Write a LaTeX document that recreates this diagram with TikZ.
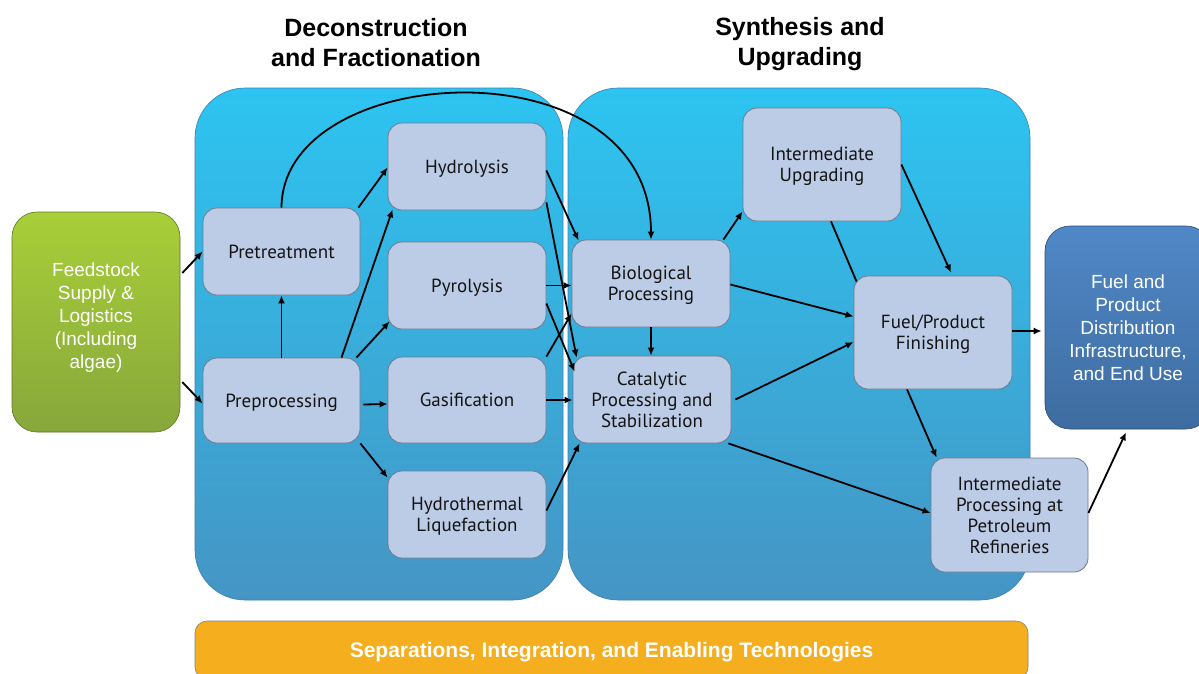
\documentclass[tikz,border=0pt]{standalone}
\usepackage{fontspec}
\setmainfont{Liberation Sans}
\newfontfamily\boxfont{PT Sans}
\usetikzlibrary{arrows.meta}
\definecolor{pbox}{HTML}{BCCBE6}
\definecolor{procline}{HTML}{6E7A8E}
\definecolor{paneltop}{HTML}{2DC4F1}
\definecolor{panelbot}{HTML}{4595C4}
\definecolor{panelline}{HTML}{3A7FAF}
\definecolor{greentop}{HTML}{A8CF38}
\definecolor{greenbot}{HTML}{87A73B}
\definecolor{disttop}{HTML}{5088C7}
\definecolor{distbot}{HTML}{3E6CA0}
\definecolor{barfill}{HTML}{F4AE1E}
\definecolor{boxtext}{HTML}{141414}
\begin{document}
\begin{tikzpicture}[x=1pt,y=-1pt,
  proc/.style={draw=procline, line width=0.8pt, fill=pbox, rounded corners=14pt,
    minimum width=158pt, minimum height=87pt, align=center, inner sep=2pt,
    text=boxtext, text depth=0pt, font=\boxfont\fontsize{19}{21}\selectfont},
  tallproc/.style={proc, minimum height=113pt},
  panel/.style={rounded corners=50pt, top color=paneltop, bottom color=panelbot,
    draw=panelline, line width=0.6pt, minimum height=512pt},
  title/.style={align=center, font=\bfseries\fontsize{25}{30}\selectfont, text=black},
  whitetext/.style={align=center, text=white, font=\fontsize{19}{23}\selectfont},
  arr/.style={line width=1.8pt, -{Latex[length=8pt,width=7pt]}},
  plain/.style={line width=1.8pt}
]
\useasboundingbox (0,0) rectangle (1199,673);
\fill[white] (0,0) rectangle (1199,673);

% panels
\node[panel, minimum width=368pt] (pl) at (379,344) {};
\node[panel, minimum width=462pt] (pr) at (799,344) {};

% titles
\node[title] (t1) at (376,42.5) {Deconstruction\\and Fractionation};
\node[title] (t2) at (800,44.5) {Synthesis and\\Upgrading};

% feedstock
\node[rounded corners=25pt, top color=greentop, bottom color=greenbot,
  draw=greenbot!70!black, line width=0.6pt, minimum width=168pt, minimum height=220pt]
  (feed) at (96,322) {};
\node[whitetext] (feedtxt) at (96,318) {Feedstock\\Supply \&\\Logistics\\(Including\\algae)};

% distribution
\node[rounded corners=25pt, top color=disttop, bottom color=distbot,
  draw=distbot!70!black, line width=0.6pt, minimum width=166pt, minimum height=203pt,
  whitetext] (dist) at (1128,327.5)
  {Fuel and\\Product\\Distribution\\Infrastructure,\\and End Use};

% bottom bar
\node[rounded corners=12pt, fill=barfill, draw=gray, line width=0.6pt,
  minimum width=833pt, minimum height=58pt, text=white, text depth=0pt,
  font=\bfseries\fontsize{21}{24}\selectfont] (sep) at (611.5,650)
  {Separations, Integration, and Enabling Technologies};

% process boxes
\node[proc, minimum width=157pt] (pret) at (281.5,251.5) {Pretreatment};
\node[proc, minimum width=157pt, minimum height=85pt] (prep) at (281.5,400.5) {Preprocessing};
\node[proc] (hyd) at (467,166.5) {Hydrolysis};
\node[proc] (pyr) at (467,285.5) {Pyrolysis};
\node[proc, minimum height=86pt] (gas) at (467,400) {Gasification};
\node[proc] (htl) at (467,514.5) {Hydrothermal\\Liquefaction};
\node[proc] (bio) at (651,283.5) {Biological\\Processing};
\node[proc] (cat) at (652,399.5) {Catalytic\\Processing and\\Stabilization};
\node[tallproc] (iup) at (822,164.5) {Intermediate\\Upgrading};
\node[tallproc] (fin) at (933,332.5) {Fuel/Product\\Finishing};
\node[tallproc, minimum width=157pt, minimum height=114pt] (ipr) at (1009.5,515)
  {Intermediate\\Processing at\\Petroleum\\Refineries};

% connectors
\draw[arr] ([xshift=2pt,yshift=49pt]feed.east) -- (pret.west);
\draw[arr] ([xshift=2pt,yshift=-60pt]feed.east) -- ([yshift=-3pt]prep.west);
\draw[arr] (prep.north) -- (pret.south);
\draw[arr] (pret.north) .. controls (282,60) and (651,40) .. (bio.north);
\draw[arr] ([xshift=-2pt]pret.north east) -- ([yshift=-1pt]hyd.west);
\draw[arr] ([xshift=60pt]prep.north) -- ([xshift=5pt,yshift=1pt]hyd.south west);
\draw[arr] ([xshift=-4pt]prep.north east) -- ([xshift=2pt,yshift=8pt]pyr.south west);
\draw[arr] ([xshift=3pt,yshift=-4pt]prep.east) -- ([yshift=-4pt]gas.west);
\draw[arr] (prep.south east) -- ([yshift=-7pt]htl.north west);

\draw[arr] ([yshift=-4pt]hyd.east) -- ([xshift=7pt,yshift=-1pt]bio.north west);
\draw[arr] ([yshift=8pt]hyd.south east) -- ([xshift=4pt,yshift=-2pt]cat.north west);
\draw[arr] (pyr.east) -- (pyr.east -| bio.west);
\draw[arr] ([yshift=-18pt]pyr.east) -- ([xshift=2pt,yshift=-16pt]cat.north west);
\draw[arr] (gas.north east) -- ([yshift=14pt]bio.south west);
\draw[arr] (gas.east) -- (gas.east -| cat.west);
\draw[arr] ([yshift=4pt]htl.east) -- ([xshift=7pt]cat.south west);
\draw[arr] (bio.south) -- (bio.south |- cat.north);

\draw[arr] ([xshift=-7pt]bio.north east) -- ([yshift=10pt]iup.south west);
\draw[arr] ([yshift=-1pt]bio.east) -- ([yshift=16pt]fin.west);
\draw[arr] ([xshift=4pt]cat.east) -- ([yshift=-9.5pt]fin.west);
\draw[arr] ([xshift=-3pt]cat.south east) -- ([yshift=2pt]ipr.west);
\draw[arr] (iup.east) -- ([xshift=18pt,yshift=3pt]fin.north);
\draw[plain] ([xshift=9pt]iup.south) -- ([xshift=3pt,yshift=-6pt]fin.north west);
\draw[arr] ([yshift=1.5pt]fin.east) -- ([xshift=-3pt,yshift=1.5pt]fin.east -| dist.west);
\draw[arr] ([xshift=-26pt]fin.south) -- ([xshift=6pt]ipr.north west);
\draw[arr] ([yshift=2pt]ipr.east) -- ([xshift=-2pt,yshift=-3pt]dist.south);
\end{tikzpicture}
\end{document}
